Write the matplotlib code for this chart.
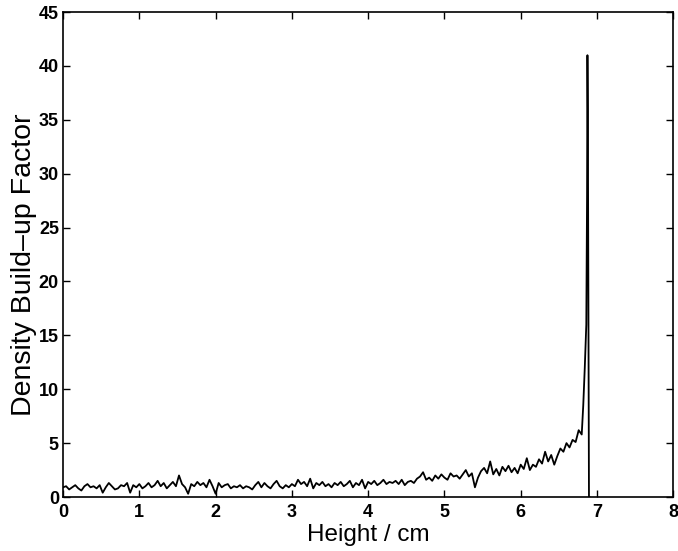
import numpy as np
import matplotlib
matplotlib.use("Agg")
import matplotlib.pyplot as plt

plt.rcParams.update({
    "font.family": ["Liberation Sans", "DejaVu Sans"],
    "axes.linewidth": 1.2,
})

# bulk profile, sampled every 0.04 cm from 0 to 6.80 cm
STEP = 0.04
bulk_factor = [
    0.9, 1.0, 0.7, 0.9, 1.1, 0.8, 0.6, 1.0, 1.2, 0.9,
    1.0, 0.8, 1.1, 0.4, 0.9, 1.3, 1.0, 0.7, 0.8, 1.1,
    1.0, 1.3, 0.4, 1.1, 0.9, 1.2, 0.8, 1.0, 1.3, 0.9,
    1.1, 1.5, 1.0, 1.3, 0.8, 1.1, 1.4, 1.0, 2.0, 1.2,
    0.9, 0.3, 1.2, 1.0, 1.4, 1.1, 1.3, 0.9, 1.6, 1.0,
    0.3, 1.3, 0.9, 1.1, 1.2, 0.8, 1.0, 0.9, 1.1, 0.8,
    1.0, 0.9, 0.7, 1.1, 1.4, 0.9, 1.3, 1.0, 0.8, 1.2,
    1.5, 1.0, 0.8, 1.1, 0.9, 1.2, 1.0, 1.6, 1.2, 1.4,
    1.0, 1.7, 0.8, 1.3, 1.1, 1.4, 1.0, 1.2, 0.9, 1.3,
    1.1, 1.4, 1.0, 1.2, 1.5, 0.9, 1.3, 1.1, 1.6, 0.8,
    1.4, 1.2, 1.5, 1.1, 1.3, 1.6, 1.2, 1.4, 1.3, 1.5,
    1.2, 1.6, 1.1, 1.4, 1.5, 1.3, 1.7, 1.9, 2.3, 1.6,
    1.8, 1.5, 2.0, 1.7, 2.1, 1.8, 1.6, 2.2, 1.9, 2.0,
    1.7, 2.1, 2.5, 1.9, 2.2, 0.9, 1.8, 2.4, 2.7, 2.2,
    3.3, 2.1, 2.6, 2.0, 2.8, 2.4, 2.9, 2.3, 2.7, 2.2,
    3.0, 2.6, 3.6, 2.5, 3.0, 2.8, 3.5, 3.1, 4.2, 3.3,
    3.9, 3.0, 3.8, 4.5, 4.2, 5.0, 4.6, 5.3, 5.1, 6.2,
    5.8,
]
bulk_height = np.arange(len(bulk_factor)) * STEP

# spike at the top surface
spike_height = [6.82, 6.84, 6.86, 6.87, 6.875, 6.88, 6.895, 6.90]
spike_factor = [8.5, 12.0, 16.0, 28.0, 41.0, 36.0, 0.0, 0.0]

height = np.concatenate([bulk_height, spike_height])
factor = np.concatenate([bulk_factor, spike_factor])

fig = plt.figure(figsize=(6.78, 5.51), dpi=100)
ax = fig.add_axes([0.093, 0.098, 0.9, 0.88])
ax.plot(height, factor, color="black", lw=1.3)

ax.set_xlim(0, 8)
ax.set_ylim(0, 45)
ax.set_xticks(range(0, 9))
ax.set_yticks(range(0, 46, 5))
ax.tick_params(direction="in", top=True, right=True, length=5, width=1,
               labelsize=13)
ax.tick_params(axis="x", pad=5)
ax.tick_params(axis="y", pad=3)
for lab in ax.get_xticklabels() + ax.get_yticklabels():
    lab.set_fontweight("bold")

ax.set_xlabel("Height / cm", fontsize=17.5)
ax.set_ylabel("Density Build–up Factor", fontsize=20.5)
ax.xaxis.set_label_coords(0.5, -0.055)
ax.yaxis.set_label_coords(-0.042, 0.478)

fig.savefig("out.png", dpi=100)
